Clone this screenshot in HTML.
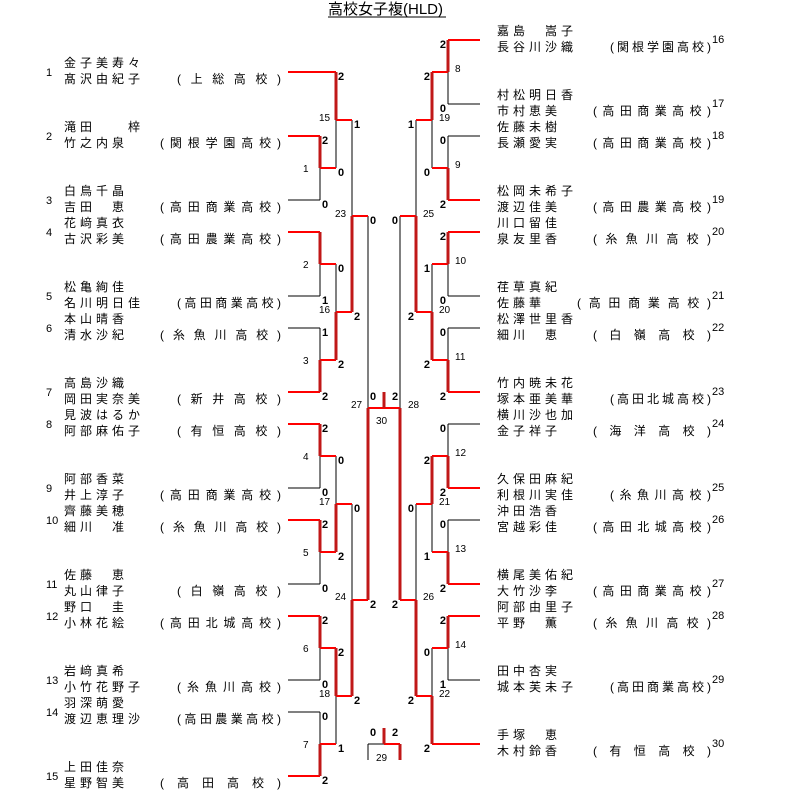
<!DOCTYPE html>
<html><head><meta charset="utf-8"><style>
body{margin:0;background:#fff}
svg{display:block}
text{font-family:"Liberation Sans","Noto Sans CJK JP",sans-serif;fill:#000}
.n{font-size:12px;letter-spacing:4px}
.s{font-size:12px}
.e{font-size:11px}
.sc{font-size:11px;font-weight:bold}
.m{font-size:10px}
.k{stroke:#000;stroke-width:1;fill:none}
.rh{stroke:#f00;stroke-width:2;fill:none}
.rv{stroke:#c01818;stroke-width:3;fill:none}
</style></head><body>
<svg width="794" height="810" viewBox="0 0 794 810">
<text x="328" y="14" style="font-size:15px">高校女子複(HLD)</text>
<line x1="328" y1="17" x2="446" y2="17" stroke="#000" stroke-width="1"/>

<!-- black lines -->
<path class="k" d="M288 200H320M288 296H320M288 328H320M288 488H320M288 584H320M288 680H320M288 712H320
M320 168V200M320 264V296M320 328V360M320 456V488M320 552V584M320 648V680M320 712V744
M336 120V168M336 264V312M336 456V504M336 696V744
M352 120V216M352 504V600M368 216V408
M448 104H480M448 136H480M448 296H480M448 328H480M448 424H480M448 520H480M448 680H480
M448 72V104M448 136V168M448 264V296M448 328V360M448 424V456M448 520V552M448 648V680
M432 120V168M432 264V312M432 504V552M432 648V696
M416 120V216M416 504V600M400 216V408
M368 744H384M368 744V760"/>
<!-- red horizontals -->
<path class="rh" d="M288 72H336M288 136H320M288 232H320M288 392H320M288 424H320M288 520H320M288 616H320M288 776H320
M320 168H336M320 264H336M320 360H336M320 456H336M320 552H336M320 648H336M320 744H336
M336 120H352M336 312H352M336 504H352M336 696H352M352 216H368M352 600H368M368 408H400
M448 40H480M448 200H480M448 232H480M448 392H480M448 488H480M448 584H480M448 616H480M432 744H480
M432 72H448M432 168H448M432 264H448M432 360H448M432 456H448M432 552H448M432 648H448
M416 120H432M416 312H432M416 504H432M416 696H432M400 216H416M400 600H416M384 744H400"/>
<!-- red verticals -->
<path class="rv" d="M320 136V168M320 232V264M320 360V392M320 424V456M320 520V552M320 616V648M320 744V776
M336 72V120M336 312V360M336 504V552M336 648V696M352 216V312M352 600V696M368 408V600
M448 40V72M448 168V200M448 232V264M448 360V392M448 456V488M448 552V584M448 616V648
M432 72V120M432 312V360M432 456V504M432 696V744M416 216V312M416 600V696M400 408V600
M384 392V408M384 728V744M400 744V760"/>

<!-- scores left -->
<g class="sc">
<text x="322" y="144">2</text><text x="322" y="208">0</text><text x="322" y="304">1</text><text x="322" y="336">1</text><text x="322" y="400">2</text><text x="322" y="432">2</text><text x="322" y="496">0</text><text x="322" y="528">2</text><text x="322" y="592">0</text><text x="322" y="624">2</text><text x="322" y="688">0</text><text x="322" y="720">0</text><text x="322" y="784">2</text>
<text x="338" y="80">2</text><text x="338" y="176">0</text><text x="338" y="272">0</text><text x="338" y="368">2</text><text x="338" y="464">0</text><text x="338" y="560">2</text><text x="338" y="656">2</text><text x="338" y="752">1</text>
<text x="354" y="128">1</text><text x="354" y="320">2</text><text x="354" y="512">0</text><text x="354" y="704">2</text>
<text x="370" y="224">0</text><text x="370" y="608">2</text><text x="370" y="400">0</text><text x="370" y="736">0</text>
<text x="392" y="400">2</text><text x="392" y="736">2</text>
</g>
<g class="sc" text-anchor="end">
<text x="446" y="48">2</text><text x="446" y="112">0</text><text x="446" y="144">0</text><text x="446" y="208">2</text><text x="446" y="240">2</text><text x="446" y="304">0</text><text x="446" y="336">0</text><text x="446" y="400">2</text><text x="446" y="432">0</text><text x="446" y="496">2</text><text x="446" y="528">0</text><text x="446" y="592">2</text><text x="446" y="624">2</text><text x="446" y="688">1</text>
<text x="430" y="80">2</text><text x="430" y="176">0</text><text x="430" y="272">1</text><text x="430" y="368">2</text><text x="430" y="464">2</text><text x="430" y="560">1</text><text x="430" y="656">0</text><text x="430" y="752">2</text>
<text x="414" y="128">1</text><text x="414" y="320">2</text><text x="414" y="512">0</text><text x="414" y="704">2</text>
<text x="398" y="224">0</text><text x="398" y="608">2</text>
</g>
<!-- match numbers -->
<g class="m">
<text x="303" y="172">1</text><text x="303" y="268">2</text><text x="303" y="364">3</text><text x="303" y="460">4</text><text x="303" y="556">5</text><text x="303" y="652">6</text><text x="303" y="748">7</text>
<text x="319" y="121">15</text><text x="319" y="313">16</text><text x="319" y="505">17</text><text x="319" y="697">18</text>
<text x="335" y="217">23</text><text x="335" y="600">24</text>
<text x="351" y="408">27</text><text x="408" y="408">28</text><text x="376" y="424">30</text><text x="376" y="761">29</text>
<text x="455" y="72">8</text><text x="455" y="168">9</text><text x="455" y="264">10</text><text x="455" y="360">11</text><text x="455" y="456">12</text><text x="455" y="552">13</text><text x="455" y="648">14</text>
<text x="439" y="121">19</text><text x="439" y="313">20</text><text x="439" y="505">21</text><text x="439" y="697">22</text>
<text x="423" y="217">25</text><text x="423" y="600">26</text>
</g>

<!-- left entries -->
<g class="e">
<text x="46" y="76">1</text><text x="46" y="140">2</text><text x="46" y="204">3</text><text x="46" y="236">4</text><text x="46" y="300">5</text><text x="46" y="332">6</text><text x="46" y="396">7</text><text x="46" y="428">8</text><text x="46" y="492">9</text><text x="46" y="524">10</text><text x="46" y="588">11</text><text x="46" y="620">12</text><text x="46" y="684">13</text><text x="46" y="716">14</text><text x="46" y="780">15</text>
</g>
<g class="n">
<text x="64" y="67">金子美寿々</text><text x="64" y="83">髙沢由紀子</text>
<text x="64" y="131">滝田　　梓</text><text x="64" y="147">竹之内泉</text>
<text x="64" y="195">白鳥千晶</text><text x="64" y="211">吉田　恵</text>
<text x="64" y="227">花﨑真衣</text><text x="64" y="243">古沢彩美</text>
<text x="64" y="291">松亀絢佳</text><text x="64" y="307">名川明日佳</text>
<text x="64" y="323">本山晴香</text><text x="64" y="339">清水沙紀</text>
<text x="64" y="387">高島沙織</text><text x="64" y="403">岡田実奈美</text>
<text x="64" y="419">見波はるか</text><text x="64" y="435">阿部麻佑子</text>
<text x="64" y="483">阿部香菜</text><text x="64" y="499">井上淳子</text>
<text x="64" y="515">齊藤美穂</text><text x="64" y="531">細川　准</text>
<text x="64" y="579">佐藤　恵</text><text x="64" y="595">丸山律子</text>
<text x="64" y="611">野口　圭</text><text x="64" y="627">小林花絵</text>
<text x="64" y="675">岩﨑真希</text><text x="64" y="691">小竹花野子</text>
<text x="64" y="707">羽深萌愛</text><text x="64" y="723">渡辺恵理沙</text>
<text x="64" y="771">上田佳奈</text><text x="64" y="787">星野智美</text>
</g>
<g class="s">
<text x="177" y="83" textLength="104" lengthAdjust="spacing">(上総高校)</text>
<text x="160" y="147" textLength="121" lengthAdjust="spacing">(関根学園高校)</text>
<text x="160" y="211" textLength="121" lengthAdjust="spacing">(高田商業高校)</text>
<text x="160" y="243" textLength="121" lengthAdjust="spacing">(高田農業高校)</text>
<text x="177" y="307" textLength="104" lengthAdjust="spacing">(高田商業高校)</text>
<text x="160" y="339" textLength="121" lengthAdjust="spacing">(糸魚川高校)</text>
<text x="177" y="403" textLength="104" lengthAdjust="spacing">(新井高校)</text>
<text x="177" y="435" textLength="104" lengthAdjust="spacing">(有恒高校)</text>
<text x="160" y="499" textLength="121" lengthAdjust="spacing">(高田商業高校)</text>
<text x="160" y="531" textLength="121" lengthAdjust="spacing">(糸魚川高校)</text>
<text x="177" y="595" textLength="104" lengthAdjust="spacing">(白嶺高校)</text>
<text x="160" y="627" textLength="121" lengthAdjust="spacing">(高田北城高校)</text>
<text x="177" y="691" textLength="104" lengthAdjust="spacing">(糸魚川高校)</text>
<text x="177" y="723" textLength="104" lengthAdjust="spacing">(高田農業高校)</text>
<text x="160" y="787" textLength="121" lengthAdjust="spacing">(高田高校)</text>
</g>

<!-- right entries -->
<g class="n">
<text x="497" y="35">嘉島　嵩子</text><text x="497" y="51">長谷川沙織</text>
<text x="497" y="99">村松明日香</text><text x="497" y="115">市村恵美</text>
<text x="497" y="131">佐藤未樹</text><text x="497" y="147">長瀬愛実</text>
<text x="497" y="195">松岡未希子</text><text x="497" y="211">渡辺佳美</text>
<text x="497" y="227">川口留佳</text><text x="497" y="243">泉友里香</text>
<text x="497" y="291">荏草真紀</text><text x="497" y="307">佐藤華</text>
<text x="497" y="323">松澤世里香</text><text x="497" y="339">細川　恵</text>
<text x="497" y="387">竹内暁未花</text><text x="497" y="403">塚本亜美華</text>
<text x="497" y="419">横川沙也加</text><text x="497" y="435">金子祥子</text>
<text x="497" y="483">久保田麻紀</text><text x="497" y="499">利根川実佳</text>
<text x="497" y="515">沖田浩香</text><text x="497" y="531">宮越彩佳</text>
<text x="497" y="579">横尾美佑紀</text><text x="497" y="595">大竹沙李</text>
<text x="497" y="611">阿部由里子</text><text x="497" y="627">平野　薫</text>
<text x="497" y="675">田中杏実</text><text x="497" y="691">城本芙未子</text>
<text x="497" y="739">手塚　恵</text><text x="497" y="755">木村鈴香</text>
</g>
<g class="s">
<text x="610" y="51" textLength="101" lengthAdjust="spacing">(関根学園高校)</text>
<text x="593" y="115" textLength="118" lengthAdjust="spacing">(高田商業高校)</text>
<text x="593" y="147" textLength="118" lengthAdjust="spacing">(高田商業高校)</text>
<text x="593" y="211" textLength="118" lengthAdjust="spacing">(高田農業高校)</text>
<text x="593" y="243" textLength="118" lengthAdjust="spacing">(糸魚川高校)</text>
<text x="577" y="307" textLength="134" lengthAdjust="spacing">(高田商業高校)</text>
<text x="593" y="339" textLength="118" lengthAdjust="spacing">(白嶺高校)</text>
<text x="610" y="403" textLength="101" lengthAdjust="spacing">(高田北城高校)</text>
<text x="593" y="435" textLength="118" lengthAdjust="spacing">(海洋高校)</text>
<text x="610" y="499" textLength="101" lengthAdjust="spacing">(糸魚川高校)</text>
<text x="593" y="531" textLength="118" lengthAdjust="spacing">(高田北城高校)</text>
<text x="593" y="595" textLength="118" lengthAdjust="spacing">(高田商業高校)</text>
<text x="593" y="627" textLength="118" lengthAdjust="spacing">(糸魚川高校)</text>
<text x="610" y="691" textLength="101" lengthAdjust="spacing">(高田商業高校)</text>
<text x="593" y="755" textLength="118" lengthAdjust="spacing">(有恒高校)</text>
</g>
<g class="e">
<text x="712" y="43">16</text><text x="712" y="107">17</text><text x="712" y="139">18</text><text x="712" y="203">19</text><text x="712" y="235">20</text><text x="712" y="299">21</text><text x="712" y="331">22</text><text x="712" y="395">23</text><text x="712" y="427">24</text><text x="712" y="491">25</text><text x="712" y="523">26</text><text x="712" y="587">27</text><text x="712" y="619">28</text><text x="712" y="683">29</text><text x="712" y="747">30</text>
</g>
</svg>
</body></html>
